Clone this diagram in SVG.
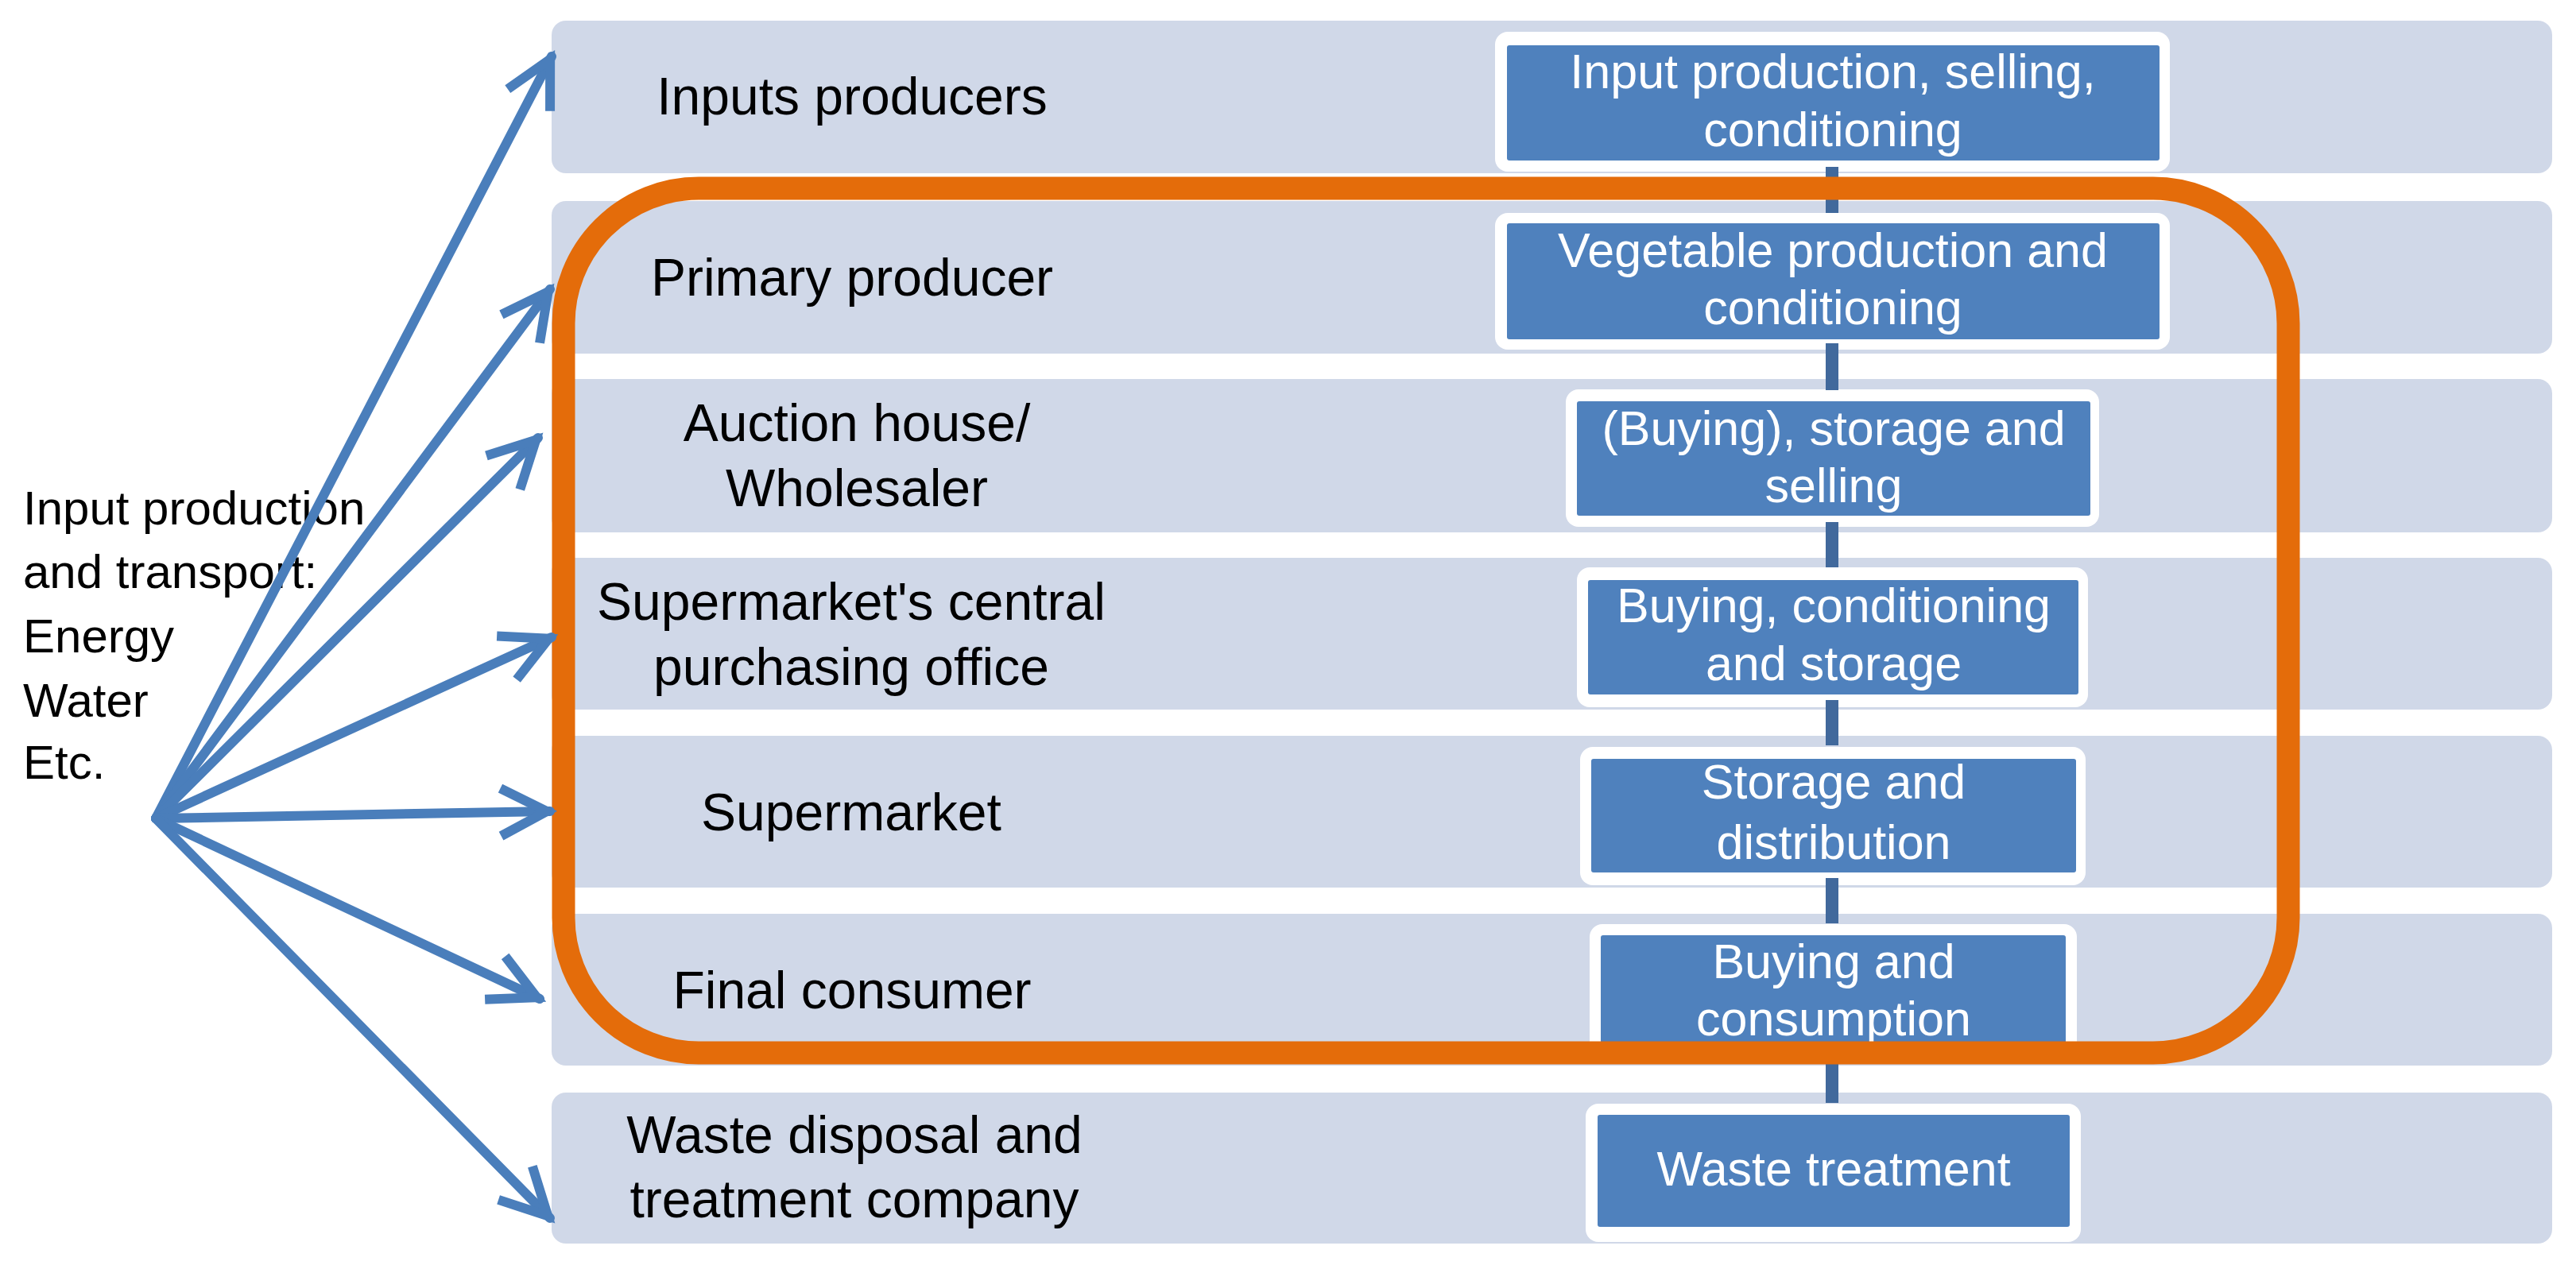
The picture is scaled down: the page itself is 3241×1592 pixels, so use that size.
<svg xmlns="http://www.w3.org/2000/svg" width="3241" height="1592" viewBox="0 0 3241 1592">
<style>
.band{fill:#D0D8E8}
.lbl{font-family:"Liberation Sans",Arial,sans-serif;font-size:66px;fill:#000;text-anchor:middle}
.src{font-family:"Liberation Sans",Arial,sans-serif;font-size:60px;fill:#000}
.wb{fill:#FFFFFF}
.bb{fill:#4F81BD}
.bt{font-family:"Liberation Sans",Arial,sans-serif;font-size:61px;fill:#FFFFFF;text-anchor:middle}
.link{stroke:#41699C;stroke-width:16;fill:none}
.arr{stroke:#4A7EBB;stroke-width:12;fill:none;stroke-linecap:round;marker-end:url(#ah)}
</style>
<defs>
<marker id="ah" viewBox="0 0 80 80" refX="70" refY="40" markerWidth="80" markerHeight="80" markerUnits="userSpaceOnUse" orient="auto">
<path d="M8,10 L66,40 L8,70" fill="none" stroke="#4A7EBB" stroke-width="12" stroke-linejoin="miter"/>
</marker>
</defs>
<rect width="3241" height="1592" fill="#FFFFFF"/>

<g id="row-inputs-producers"><rect class="band" x="694" y="26" width="2517" height="192" rx="18"/><text class="lbl" x="1072" y="144">Inputs producers</text></g>
<g id="row-primary-producer"><rect class="band" x="694" y="253" width="2517" height="192" rx="18"/><text class="lbl" x="1072" y="372">Primary producer</text></g>
<g id="row-auction-house"><rect class="band" x="694" y="477" width="2517" height="193" rx="18"/><text class="lbl" x="1078" y="555">Auction house/</text><text class="lbl" x="1078" y="637">Wholesaler</text></g>
<g id="row-central-purchasing"><rect class="band" x="694" y="702" width="2517" height="191" rx="18"/><text class="lbl" x="1071" y="780">Supermarket's central</text><text class="lbl" x="1071" y="862">purchasing office</text></g>
<g id="row-supermarket"><rect class="band" x="694" y="926" width="2517" height="191" rx="18"/><text class="lbl" x="1071" y="1045">Supermarket</text></g>
<g id="row-final-consumer"><rect class="band" x="694" y="1150" width="2517" height="191" rx="18"/><text class="lbl" x="1072" y="1269">Final consumer</text></g>
<g id="row-waste-company"><rect class="band" x="694" y="1375" width="2517" height="190" rx="18"/><text class="lbl" x="1075" y="1451">Waste disposal and</text><text class="lbl" x="1075" y="1532">treatment company</text></g>

<g id="box-input-production"><rect class="wb" x="1881" y="40" width="849" height="176" rx="16"/><rect class="bb" x="1896" y="57" width="821" height="145" rx="3"/><text class="bt" x="2306" y="111">Input production, selling,</text><text class="bt" x="2306" y="184">conditioning</text></g>
<g id="box-vegetable-production"><rect class="wb" x="1881" y="268" width="849" height="172" rx="16"/><rect class="bb" x="1896" y="281" width="821" height="146" rx="3"/><text class="bt" x="2306" y="336">Vegetable production and</text><text class="bt" x="2306" y="408">conditioning</text></g>
<g id="box-buying-storage-selling"><rect class="wb" x="1970" y="490" width="671" height="173" rx="16"/><rect class="bb" x="1984" y="505" width="646" height="144" rx="3"/><text class="bt" x="2307" y="560">(Buying), storage and</text><text class="bt" x="2307" y="632">selling</text></g>
<g id="box-buying-conditioning"><rect class="wb" x="1984" y="714" width="643" height="176" rx="16"/><rect class="bb" x="1998" y="730" width="617" height="144" rx="3"/><text class="bt" x="2307" y="783">Buying, conditioning</text><text class="bt" x="2307" y="856">and storage</text></g>
<g id="box-storage-distribution"><rect class="wb" x="1988" y="940" width="636" height="174" rx="16"/><rect class="bb" x="2002" y="955" width="610" height="143" rx="3"/><text class="bt" x="2307" y="1005">Storage and</text><text class="bt" x="2307" y="1081">distribution</text></g>
<g id="box-buying-consumption"><rect class="wb" x="2000" y="1163" width="613" height="173" rx="16"/><rect class="bb" x="2014" y="1177" width="585" height="145" rx="3"/><text class="bt" x="2307" y="1231">Buying and</text><text class="bt" x="2307" y="1303">consumption</text></g>
<g id="box-waste-treatment"><rect class="wb" x="1995" y="1389" width="623" height="174" rx="16"/><rect class="bb" x="2010" y="1403" width="594" height="141" rx="3"/><text class="bt" x="2307" y="1492">Waste treatment</text></g>

<g id="source-inputs">
<text class="src" x="29" y="660">Input production</text>
<text class="src" x="29" y="740">and transport:</text>
<text class="src" x="29" y="821">Energy</text>
<text class="src" x="29" y="902">Water</text>
<text class="src" x="29" y="980">Etc.</text>
</g>

<g id="connectors">
<line class="link" x1="2305" y1="210" x2="2305" y2="268"/>
<line class="link" x1="2305" y1="432" x2="2305" y2="491"/>
<line class="link" x1="2305" y1="657" x2="2305" y2="714"/>
<line class="link" x1="2305" y1="881" x2="2305" y2="938"/>
<line class="link" x1="2305" y1="1105" x2="2305" y2="1162"/>
<line class="link" x1="2305" y1="1330" x2="2305" y2="1388"/>
</g>

<g id="chain-boundary"><rect x="709" y="237" width="2170" height="1088" rx="170" fill="none" stroke="#E46C0A" stroke-width="29"/></g>

<g id="input-arrows">
<line class="arr" x1="196" y1="1030" x2="694" y2="71"/>
<line class="arr" x1="196" y1="1030" x2="692" y2="364"/>
<line class="arr" x1="196" y1="1030" x2="677" y2="551"/>
<line class="arr" x1="196" y1="1030" x2="694" y2="802"/>
<line class="arr" x1="196" y1="1030" x2="692" y2="1021"/>
<line class="arr" x1="196" y1="1030" x2="679" y2="1257"/>
<line class="arr" x1="196" y1="1030" x2="692" y2="1533"/>
</g>
</svg>
